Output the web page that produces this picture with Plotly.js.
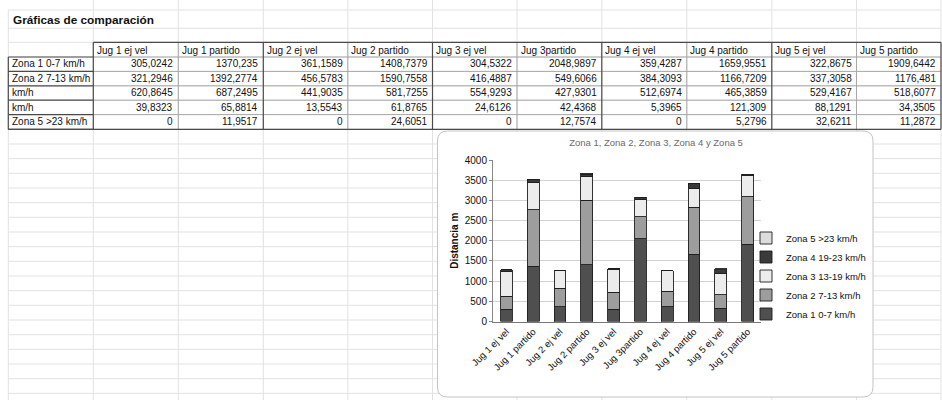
<!DOCTYPE html>
<html><head><meta charset="utf-8">
<script src="https://cdn.plot.ly/plotly-3.0.1.min.js"></script>
<style>html,body{margin:0;padding:0;background:#fff}#chart{width:942px;height:400px}</style>
</head><body><div id="chart"></div>
<script>
// ---- data ----
const categories = ['Jug 1 ej vel','Jug 1 partido','Jug 2 ej vel','Jug 2 partido','Jug 3 ej vel','Jug 3partido','Jug 4 ej vel','Jug 4 partido','Jug 5 ej vel','Jug 5 partido'];
const zona1 = [305.0242,1370.235,361.1589,1408.7379,304.5322,2048.9897,359.4287,1659.9551,322.8675,1909.6442];
const zona2 = [321.2946,1392.2774,456.5783,1590.7558,416.4887,549.6066,384.3093,1166.7209,337.3058,1176.481];
const zona3 = [620.8645,687.2495,441.9035,581.7255,554.9293,427.9301,512.6974,465.3859,529.4167,518.6077];
const zona4 = [39.8323,65.8814,13.5543,61.8765,24.6126,42.4368,5.3965,121.309,88.1291,34.3505];
const zona5 = [0,11.9517,0,24.6051,0,12.7574,0,5.2796,32.6211,11.2872];
const seriesNames = ['Zona 1 0-7 km/h','Zona 2 7-13 km/h','Zona 3 13-19 km/h','Zona 4 19-23 km/h','Zona 5 >23 km/h'];
const tableRowLabels = ['Zona 1 0-7 km/h','Zona 2 7-13 km/h','km/h','km/h','Zona 5 >23 km/h'];
const sheetTitle = 'Gráficas de comparación';
const chartTitle = 'Zona 1, Zona 2, Zona 3, Zona 4 y Zona 5';
const yTitle = 'Distancia m';

// ---- styling / layout helpers ----
const W = 942, H = 400;
const X = v => v / W, Y = v => 1 - v / H;
const FONT = 'Liberation Sans, Arial, sans-serif';
const zoneColors = ['#4f4f4f','#9d9d9d','#ececec','#3a3a3a','#dcdcdc'];
const series = [zona1, zona2, zona3, zona4, zona5];

const colX = [8.3, 93.3, 178.3, 263.3, 347.8, 432.5, 517, 601.8, 686.8, 771.8, 856.5, 941];
const rowY = [57, 71.4, 85.8, 100.2, 114.6, 129.3];
const fmt = v => String(Number(v.toFixed(4))).replace('.', ',');

const shapes = [];
function line(x0, y0, x1, y1, color, width) {
  shapes.push({type:'line', xref:'paper', yref:'paper', x0:X(x0), y0:Y(y0), x1:X(x1), y1:Y(y1),
    line:{color:color, width:width}, layer:'below'});
}
// spreadsheet grid
const gridC = '#e2e2e2';
const hLines = [10, 28.3, 42.3].concat(rowY);
for (let y = 129.3 + 14.67; y < H; y += 14.67) hLines.push(y);
hLines.forEach(y => line(8.3, y, 941, y, gridC, 1));
colX.forEach((x, i) => line(x, i === 0 ? 10 : 0, x, H, gridC, 1));

// table borders
const dark = '#4a4a4a', mid = '#a8a8a8';
for (let i = 1; i < rowY.length - 1; i++) line(93.3, rowY[i], 941, rowY[i], mid, 1);
line(93.3, 57, 941, 57, mid, 1);
[2, 4, 6, 8, 10].forEach(i => line(colX[i], 42.3, colX[i], 129.3, mid, 1));
[1, 3, 5, 7, 9, 11].forEach(i => line(colX[i], 42.3, colX[i], 129.3, dark, 1.2));
line(93.3, 42.3, 941, 42.3, dark, 1.2);
rowY.forEach(y => line(8.3, y, 93.3, y, dark, 1.2));
line(8.3, 57, 8.3, 129.3, dark, 1.2);
line(8.3, 129.3, 941, 129.3, dark, 1.2);

// chart box (rounded)
function roundRect(x0, y0, x1, y1, r) {
  const p = (a, b) => X(a) + ',' + Y(b);
  return 'M' + p(x0 + r, y0) + ' L' + p(x1 - r, y0) + ' Q' + p(x1, y0) + ' ' + p(x1, y0 + r) +
    ' L' + p(x1, y1 - r) + ' Q' + p(x1, y1) + ' ' + p(x1 - r, y1) +
    ' L' + p(x0 + r, y1) + ' Q' + p(x0, y1) + ' ' + p(x0, y1 - r) +
    ' L' + p(x0, y0 + r) + ' Q' + p(x0, y0) + ' ' + p(x0 + r, y0) + ' Z';
}
shapes.push({type:'path', xref:'paper', yref:'paper', path: roundRect(437.5, 131, 873, 397, 10),
  fillcolor:'#ffffff', line:{color:'#c4c4c4', width:1}, layer:'below'});

// table text
const annotations = [];
annotations.push({text:'<b>' + sheetTitle + '</b>', xref:'paper', yref:'paper', x:X(11), y:Y(20),
  xanchor:'left', yanchor:'middle', showarrow:false, font:{family:FONT, size:11.8, color:'#111'}});
categories.forEach((c, j) => annotations.push({text:c, xref:'paper', yref:'paper', x:X(colX[j + 1] + 1.5), y:Y(50.5),
  xanchor:'left', yanchor:'middle', showarrow:false, font:{family:FONT, size:10, color:'#111'}}));
const rowCenters = [63.8, 78.2, 92.7, 107.1, 121.6];
tableRowLabels.forEach((t, i) => annotations.push({text:t, xref:'paper', yref:'paper', x:X(10), y:Y(rowCenters[i]),
  xanchor:'left', yanchor:'middle', showarrow:false, font:{family:FONT, size:10, color:'#111'}}));
series.forEach((vals, i) => vals.forEach((v, j) => annotations.push({text:fmt(v), xref:'paper', yref:'paper',
  x:X(colX[j + 2] - 3), y:Y(rowCenters[i]), xanchor:'right', yanchor:'middle', showarrow:false,
  font:{family:FONT, size:10, color:'#111'}})));

// traces
const traces = series.map((vals, i) => ({
  type:'bar', name:seriesNames[i], x:categories, y:vals,
  marker:{color:zoneColors[i], line:{color:'#1e1e1e', width:0.9}},
  hoverinfo:'skip'
}));

const layout = {
  width:W, height:H, margin:{l:0, r:0, t:0, b:0},
  paper_bgcolor:'#ffffff', plot_bgcolor:'rgba(0,0,0,0)',
  font:{family:FONT, color:'#111'},
  barmode:'stack', bargap:0.56,
  title:{text:chartTitle, x:X(656), xanchor:'center', y:Y(143), yanchor:'middle',
    font:{family:FONT, size:9.5, color:'#6a6a6a'}},
  xaxis:{domain:[X(493), X(761)], type:'category', tickangle:-45, tickfont:{size:9.5, color:'#111'},
    showline:true, linecolor:'#777', linewidth:1, ticks:'', showgrid:false, fixedrange:true},
  yaxis:{domain:[Y(321.5), Y(160)], range:[0, 4000], dtick:500, tickfont:{size:10, color:'#111'},
    showline:true, linecolor:'#888', linewidth:1, ticks:'outside', ticklen:3, tickcolor:'#888',
    gridcolor:'#d2d2d2', gridwidth:1, zeroline:false, fixedrange:true,
    title:{text:yTitle, font:{size:10, color:'#111', weight:'bold'}, standoff:4}},
  legend:{x:X(746), xanchor:'left', y:Y(276), yanchor:'middle', traceorder:'reversed',
    font:{size:9.5, color:'#111'}, bgcolor:'rgba(0,0,0,0)', itemclick:false},
  showlegend:true,
  shapes:shapes, annotations:annotations
};
Plotly.newPlot('chart', traces, layout, {staticPlot:true, displayModeBar:false});
</script>
</body></html>
